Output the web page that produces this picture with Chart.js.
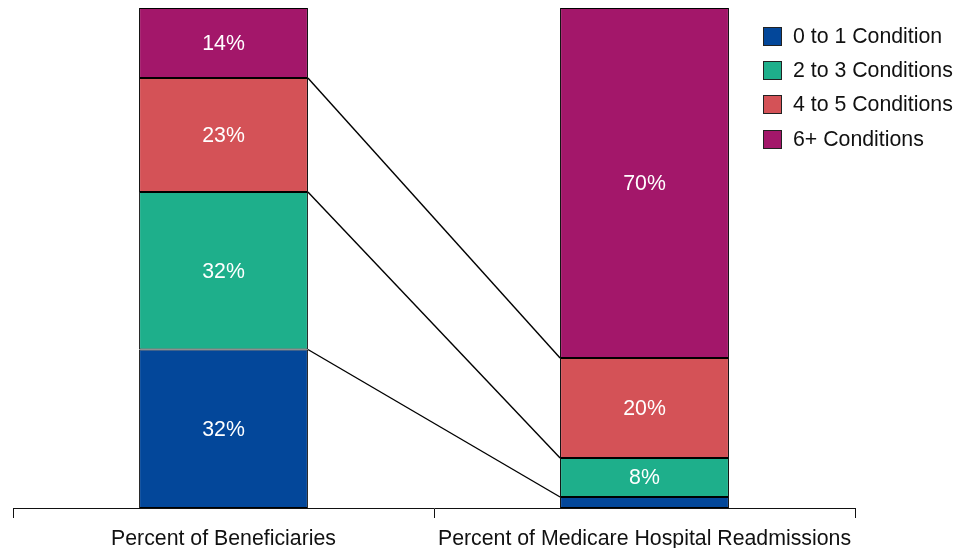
<!DOCTYPE html>
<html>
<head>
<meta charset="utf-8">
<script src="https://cdn.jsdelivr.net/npm/chart.js@4"></script>
<style>
    body { margin: 0; background: #fff; }
    #wrap { position: relative; width: 956px; height: 548px; }
    #legend { position: absolute; left: 763px; top: 19px; font-family: "Liberation Sans", Arial, sans-serif; font-size: 21.3px; color: #111; }
    .item { display: flex; align-items: center; height: 34.4px; }
    .box { width: 19px; height: 19px; border: 1px solid #222; margin-right: 11px; box-sizing: border-box; }
</style>
</head>
<body>
<div id="wrap">
    <canvas id="chart" width="956" height="548"></canvas>
    <div id="legend"></div>
</div>
<script>
// Chart data
const categories = ["Percent of Beneficiaries", "Percent of Medicare Hospital Readmissions"];
const seriesNames = ["0 to 1 Condition", "2 to 3 Conditions", "4 to 5 Conditions", "6+ Conditions"];
const oneCondition = [31.7, 2.2];
const twoThreeConditions = [31.5, 7.8];
const fourFiveConditions = [22.8, 20];
const sixPlusConditions = [14.0, 70];
const seriesColors = ["#03479A", "#1EAF8B", "#D45257", "#A3176A"];

const seriesValues = [oneCondition, twoThreeConditions, fourFiveConditions, sixPlusConditions];
const fontFamily = "'Liberation Sans', Arial, sans-serif";

// Lines joining the segment boundaries of the two bars
const connectorPlugin = {
    id: "connectors",
    afterDatasetsDraw(chart) {
        const ctx = chart.ctx;
        const yScale = chart.scales.y;
        const first = chart.getDatasetMeta(0).data;
        const x1 = first[0].x + first[0].width / 2;
        const x2 = first[1].x - first[1].width / 2;
        let cumA = 0, cumB = 0;
        ctx.save();
        ctx.strokeStyle = "#000";
        ctx.lineWidth = 1.4;
        for (let i = 0; i < seriesValues.length - 1; i++) {
            cumA += seriesValues[i][0];
            cumB += seriesValues[i][1];
            ctx.beginPath();
            ctx.moveTo(x1, yScale.getPixelForValue(cumA));
            ctx.lineTo(x2, yScale.getPixelForValue(cumB));
            ctx.stroke();
        }
        ctx.restore();
    }
};

// White percentage labels inside segments
const labelPlugin = {
    id: "segmentLabels",
    afterDatasetsDraw(chart) {
        const ctx = chart.ctx;
        ctx.save();
        ctx.fillStyle = "#fff";
        ctx.font = "21.3px " + fontFamily;
        ctx.textAlign = "center";
        ctx.textBaseline = "middle";
        chart.data.datasets.forEach((ds, i) => {
            chart.getDatasetMeta(i).data.forEach((bar, j) => {
                const v = ds.data[j];
                if (v < 5) return;
                ctx.fillText(Math.round(v) + "%", bar.x, (bar.y + bar.base) / 2 + 1);
            });
        });
        ctx.restore();
    }
};

const datasets = seriesNames.map((name, i) => ({
    label: name,
    data: seriesValues[i],
    backgroundColor: seriesColors[i],
    borderColor: "#000",
    borderWidth: 1,
    borderSkipped: false,
    categoryPercentage: 1,
    barPercentage: 0.401
}));

new Chart(document.getElementById("chart"), {
    type: "bar",
    data: { labels: categories, datasets: datasets },
    options: {
        responsive: false,
        animation: false,
        layout: { padding: { left: 13, right: 101, top: 8, bottom: 0 } },
        plugins: { legend: { display: false }, tooltip: { enabled: false } },
        scales: {
            x: {
                stacked: true,
                grid: { display: true, drawOnChartArea: false, offset: true, color: "#111", tickLength: 10 },
                border: { display: true, color: "#111", width: 1 },
                ticks: {
                    color: "#111",
                    padding: 10,
                    font: { family: fontFamily, size: 21.3, lineHeight: 1 }
                },
                afterFit(scale) { scale.height = 40; }
            },
            y: { stacked: true, display: false, min: 0, max: 100 }
        }
    },
    plugins: [connectorPlugin, labelPlugin]
});

// Legend
const legend = document.getElementById("legend");
seriesNames.forEach((name, i) => {
    const row = document.createElement("div");
    row.className = "item";
    row.innerHTML = `<span class="box" style="background:${seriesColors[i]}"></span><span>${name}</span>`;
    legend.appendChild(row);
});
</script>
</body>
</html>
